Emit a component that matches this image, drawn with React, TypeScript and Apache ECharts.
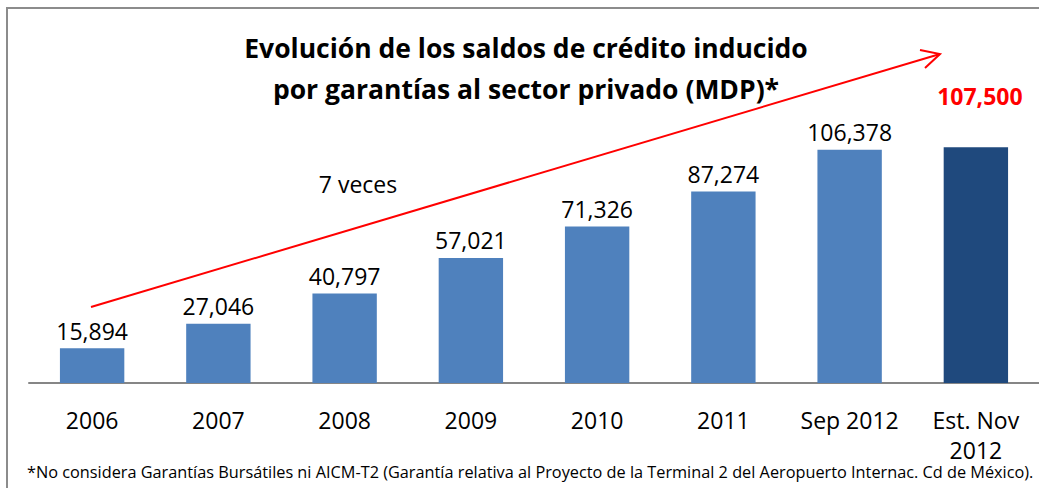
import React, { useEffect, useRef } from "react";
import * as echarts from "echarts";

const categories = ["2006", "2007", "2008", "2009", "2010", "2011", "Sep 2012", "Est. Nov\n2012"];
const values = [15894, 27046, 40797, 57021, 71326, 87274, 106378, 107500];
const highlightIndex = 7;
const titleLines = ["Evolución de los saldos de crédito inducido", "por garantías al sector privado (MDP)*"];
const growthLabel = "7 veces";
const footnote =
  "*No considera Garantías Bursátiles ni AICM-T2 (Garantía relativa al Proyecto de la Terminal 2 del Aeropuerto Internac. Cd de México).";

const FONT = "'Open Sans', 'Noto Sans', sans-serif";
const fmt = (v: number) => v.toLocaleString("en-US");

export default function App() {
  const ref = useRef<HTMLDivElement>(null);
  useEffect(() => {
    if (!ref.current) return;
    const chart = echarts.init(ref.current, null, { renderer: "svg" });
    chart.setOption({
      animation: false,
      backgroundColor: "#ffffff",
      grid: { left: 29, top: 54, width: 1016, bottom: 105, containLabel: false },
      xAxis: {
        type: "category",
        data: categories,
        axisLine: { lineStyle: { color: "#868686", width: 2 } },
        axisTick: { show: false },
        axisLabel: {
          color: "#000",
          fontFamily: FONT,
          fontSize: 23,
          lineHeight: 30,
          margin: 22,
          interval: 0,
        },
      },
      yAxis: {
        type: "value",
        min: 0,
        max: 150000,
        show: false,
        splitLine: { show: false },
      },
      series: [
        {
          type: "bar",
          barCategoryGap: "49%",
          data: values.map((v, i) => ({
            value: v,
            itemStyle: { color: i === highlightIndex ? "#1F497D" : "#4F81BD" },
            label:
              i === highlightIndex
                ? {
                    show: true,
                    position: "top",
                    distance: 40,
                    offset: [4, 0],
                    color: "#ff0000",
                    fontWeight: "bold",
                    fontSize: 23,
                  }
                : undefined,
          })),
          label: {
            show: true,
            position: "top",
            distance: 6,
            color: "#000",
            fontFamily: FONT,
            fontSize: 23,
            formatter: (p: any) => fmt(p.value),
          },
        },
      ],
      graphic: [
        {
          type: "rect",
          shape: { x: 7, y: 8, width: 1050, height: 500 },
          style: { fill: "none", stroke: "#8c8c8c", lineWidth: 2 },
          silent: true,
        },
        {
          type: "text",
          x: 526,
          y: 68,
          style: {
            text: titleLines.join("\n"),
            fontFamily: FONT,
            fontSize: 26.5,
            fontWeight: "bold",
            lineHeight: 41,
            fill: "#000",
            align: "center",
            verticalAlign: "middle",
          },
        },
        {
          type: "text",
          x: 358,
          y: 184,
          style: {
            text: growthLabel,
            fontFamily: FONT,
            fontSize: 23,
            fill: "#000",
            align: "center",
            verticalAlign: "middle",
          },
        },
        {
          type: "line",
          shape: { x1: 91, y1: 307, x2: 940, y2: 54 },
          style: { stroke: "#ff0000", lineWidth: 2 },
        },
        {
          type: "polyline",
          shape: { points: [[920, 50], [940, 54], [925, 68]] },
          style: { stroke: "#ff0000", lineWidth: 2, fill: "none" },
        },
        {
          type: "text",
          x: 27,
          y: 472,
          style: {
            text: footnote,
            fontFamily: FONT,
            fontSize: 16.3,
            lineHeight: 18,
            fill: "#000",
            align: "left",
            verticalAlign: "middle",
          },
        },
      ],
    });
    return () => chart.dispose();
  }, []);
  return (
    <div
      ref={ref}
      style={{ position: "absolute", left: 0, top: 0, width: 1039, height: 488, background: "#fff" }}
    />
  );
}
